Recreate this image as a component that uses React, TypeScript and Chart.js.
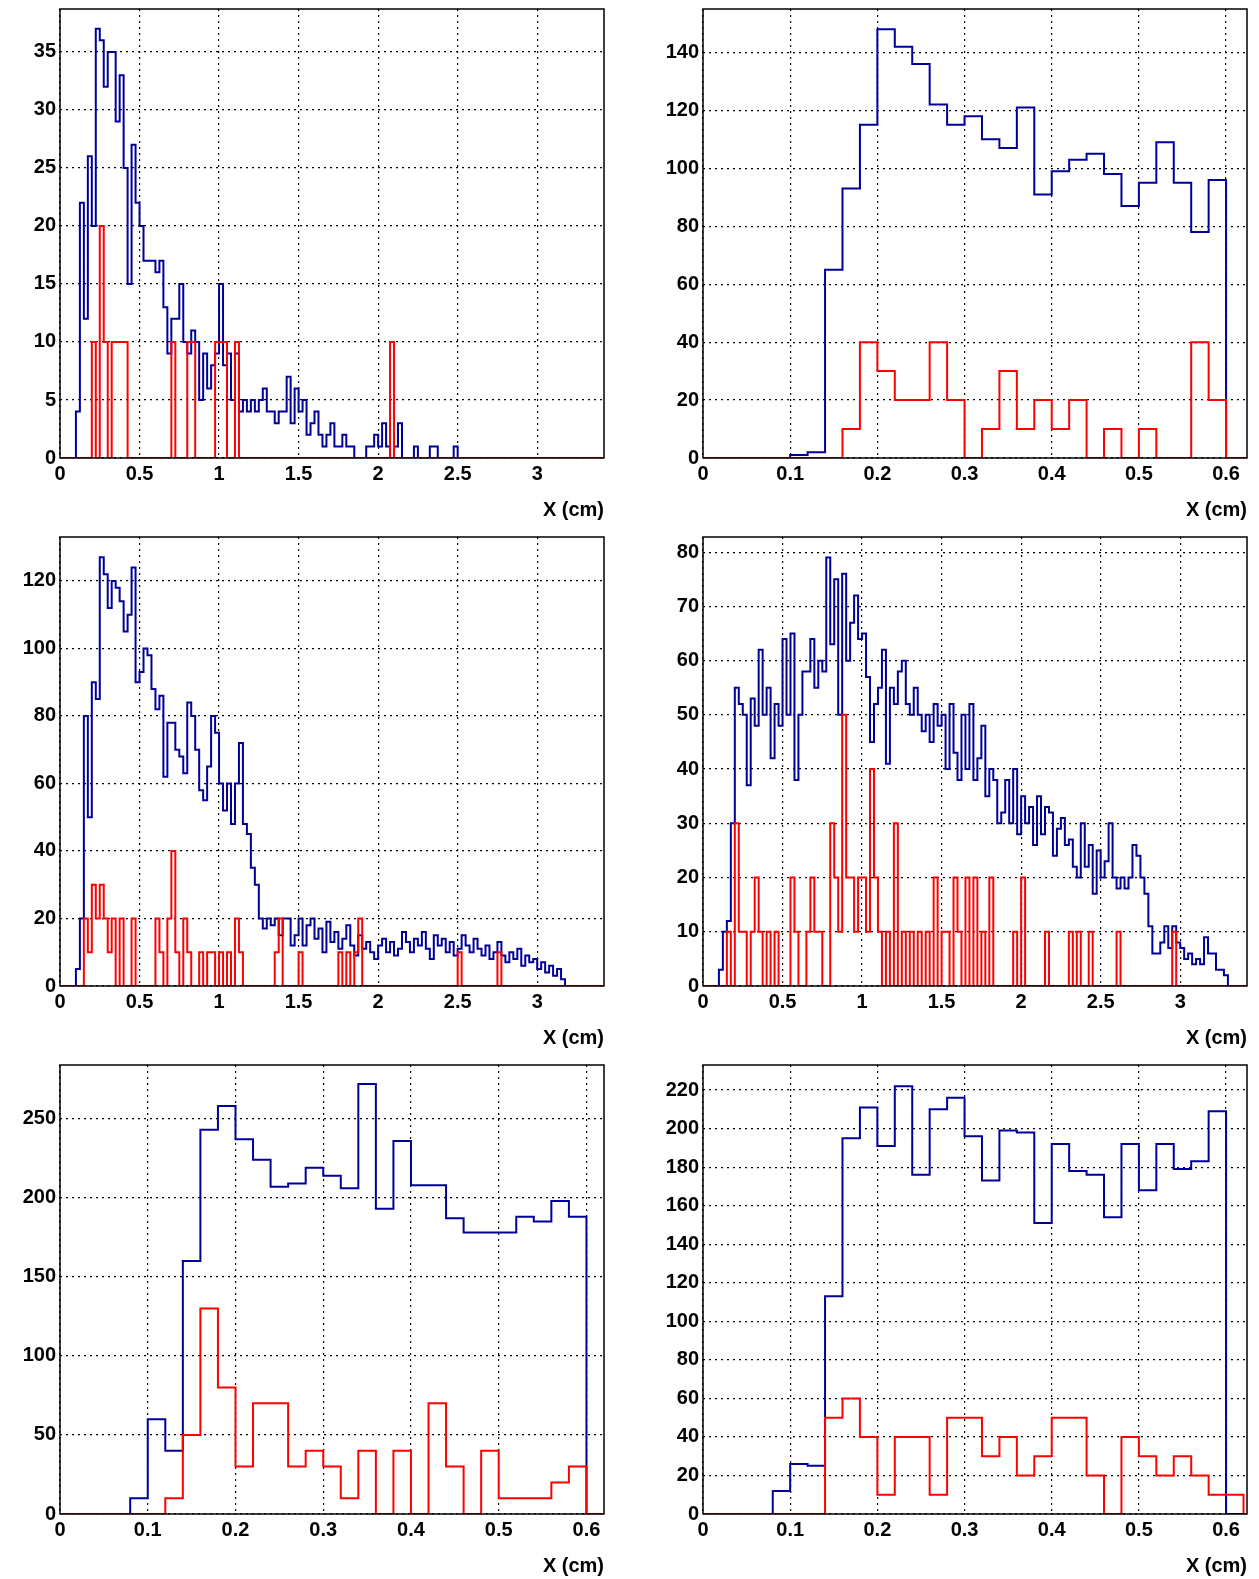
import React, { useEffect, useRef } from "react";
import { Chart, registerables } from "chart.js";
Chart.register(...registerables);

const W1 = 0.025;
const blue1Start = 0.1;
const blue1 = [4,22,12,26,20,37,36,32,35,35,29,33,25,15,27,22,20,17,17,17,16,17,13,9,12,12,15,10,9,11,10,5,9,6,8,9,15,8,9,5,9,4,5,4,5,4,5,6,4,4,3,4,4,7,3,6,4,5,2,3,4,2,1,2,3,1,1,2,1,1,0,0,0,1,1,2,1,3,1,0,1,3,0,0,0,1,0,0,0,1,1,0,0,0,0,1];
const red1 = [[0.2,10],[0.25,20],[0.275,10],[0.325,10],[0.35,10],[0.375,10],[0.4,10],[0.7,10],[0.8,10],[0.825,10],[0.975,10],[1.0,10],[1.025,10],[1.1,10],[2.075,10]];

const W2 = 0.02;
const blue2 = [0,0,0,0,0,1,2,65,93,115,148,142,136,122,115,118,110,107,121,91,99,103,105,98,87,95,109,95,78,96];
const red2 = [0,0,0,0,0,0,0,0,10,40,30,20,20,40,20,0,10,30,10,20,10,20,0,10,0,10,0,0,40,20];

const blue3Start = 0.1;
const blue3 = [5,20,80,50,90,85,127,122,112,120,118,114,105,110,124,90,93,100,98,88,82,86,62,78,78,70,68,63,84,80,70,58,55,65,80,75,60,52,60,48,60,72,48,45,35,30,20,17,20,18,20,15,20,20,12,
15,20,12,18,20,14,17,10,19,13,16,11,14,18,12,9,15,11,13,10,8,12,14,10,13,9,11,16,13,10,14,12,16,11,8,15,12,14,10,13,9,11,15,12,10,14,11,9,12,8,10,13,9,7,10,8,11,6,9,7,8,5,7,4,6,3,5,2];
const red3 = [[0.15,20],[0.175,10],[0.2,30],[0.225,20],[0.25,30],[0.275,20],[0.3,10],[0.325,20],[0.375,20],[0.45,20],[0.6,20],[0.625,10],[0.675,20],[0.7,40],[0.725,10],[0.775,20],[0.8,10],[0.875,10],[0.925,10],[0.95,10],[1.0,10],[1.05,10],[1.1,20],[1.125,10],[1.35,10],[1.375,20],[1.5,10],[1.75,10],[1.8,10],[1.85,10],[1.875,20],[2.5,10],[2.75,10]];

const blue4Start = 0.1;
const blue4 = [3,10,12,30,55,52,50,37,53,48,62,50,55,42,52,48,64,50,65,38,50,58,58,64,55,60,58,79,63,75,50,76,60,67,72,64,65,57,45,52,55,62,41,55,52,58,60,52,50,55,50,47,50,45,52,48,50,40,52,43,38,50,40,52,38,42,48,35,40,38,30,32,38,30,40,28,35,30,33,26,35,28,33,32,24,29,31,26,27,22,20,30,22,26,17,25,20,23,30,20,18,20,18,20,26,24,20,17,11,6,6,8,11,7,11,8,7,5,6,4,5,4,9,6,6,3,3,2];
const red4 = [[0.15,10],[0.2,30],[0.225,10],[0.25,10],[0.3,10],[0.325,20],[0.35,10],[0.4,10],[0.45,10],[0.55,20],[0.575,10],[0.65,10],[0.675,20],[0.7,10],[0.725,10],[0.8,30],[0.825,20],[0.85,10],[0.875,50],[0.9,20],[0.925,20],[0.95,10],[0.975,20],[1.0,20],[1.025,10],[1.05,40],[1.075,20],[1.1,10],[1.15,10],[1.2,30],[1.25,10],[1.3,10],[1.35,10],[1.4,10],[1.45,20],[1.5,10],[1.525,10],[1.575,20],[1.6,10],[1.65,20],[1.7,20],[1.75,10],[1.8,20],[1.95,10],[2.0,20],[2.15,10],[2.3,10],[2.35,10],[2.425,10],[2.6,10],[2.95,10]];

const blue5 = [0,0,0,0,10,60,40,160,243,258,237,224,207,209,219,214,206,272,193,236,208,208,187,178,178,178,188,185,198,188];
const red5 = [0,0,0,0,0,0,10,50,130,80,30,70,70,30,40,30,10,40,0,40,0,70,30,0,40,10,10,10,20,30];

const blue6 = [0,0,0,0,12,26,25,113,195,211,191,222,176,210,216,196,173,199,198,151,192,178,176,154,192,168,192,179,183,209];
const red6 = [0,0,0,0,0,0,0,50,60,40,10,40,40,10,50,50,30,40,20,30,50,50,20,0,40,30,20,30,20,10,10];

function hist(start: number, w: number, vals: number[], xEnd?: number) {
  const pts: { x: number; y: number }[] = [{ x: start, y: 0 }];
  vals.forEach((v, i) => {
    pts.push({ x: start + i * w, y: v });
    pts.push({ x: start + (i + 1) * w, y: v });
  });
  const end = start + vals.length * w;
  pts.push({ x: end, y: 0 });
  if (xEnd !== undefined && xEnd > end) pts.push({ x: xEnd, y: 0 });
  return pts;
}
function spikes(list: number[][], w: number, xmax: number) {
  const n = Math.round(xmax / w);
  const arr = new Array(n).fill(0);
  list.forEach(([x, v]) => { arr[Math.round(x / w)] = v; });
  return hist(0, w, arr, xmax);
}

const FONT = { family: "'Liberation Sans', Arial, sans-serif", size: 20, weight: "bold" as const };

type P = { blue: any[]; red: any[]; xmax: number; xstep: number; ymax: number; ystep: number; top: number; left: number; width: number };

const panels: P[] = [
  { blue: hist(blue1Start, W1, blue1, 3.42), red: spikes(red1, W1, 3.42), xmax: 3.42, xstep: 0.5, ymax: 38.7, ystep: 5, top: 0, left: 0, width: 625 },
  { blue: hist(0, W2, blue2, 0.624), red: hist(0, W2, red2, 0.624), xmax: 0.624, xstep: 0.1, ymax: 155, ystep: 20, top: 0, left: 643, width: 625 },
  { blue: hist(blue3Start, W1, blue3, 3.42), red: spikes(red3, W1, 3.42), xmax: 3.42, xstep: 0.5, ymax: 133, ystep: 20, top: 528, left: 0, width: 625 },
  { blue: hist(blue4Start, W1, blue4, 3.42), red: spikes(red4, W1, 3.42), xmax: 3.42, xstep: 0.5, ymax: 82.8, ystep: 10, top: 528, left: 643, width: 625 },
  { blue: hist(0, W2, blue5, 0.62), red: hist(0, W2, red5, 0.62), xmax: 0.62, xstep: 0.1, ymax: 284, ystep: 50, top: 1056, left: 0, width: 625 },
  { blue: hist(0, W2, blue6, 0.624), red: hist(0, W2, red6, 0.624), xmax: 0.624, xstep: 0.1, ymax: 233, ystep: 20, top: 1056, left: 643, width: 625 },
];

const frame = {
  id: "frame",
  afterDraw(c: any) {
    const { ctx, chartArea: a } = c;
    ctx.save();
    ctx.strokeStyle = "#000";
    ctx.lineWidth = 1.5;
    ctx.strokeRect(a.left, a.top, a.right - a.left, a.bottom - a.top);
    ctx.restore();
  },
};

function rebuild(step: number, max: number) {
  return (s: any) => {
    const t: any[] = [];
    for (let i = 0; i * step <= max + 1e-9; i++) t.push({ value: Math.round(i * step * 1000) / 1000 });
    s.ticks = t;
  };
}

function Panel({ p }: { p: P }) {
  const ref = useRef<HTMLCanvasElement>(null);
  useEffect(() => {
    const ch = new Chart(ref.current!, {
      type: "line",
      data: {
        datasets: [
          { data: p.red, borderColor: "#ff0000", borderWidth: 2, pointRadius: 0, fill: false, tension: 0 },
          { data: p.blue, borderColor: "#000099", borderWidth: 2, pointRadius: 0, fill: false, tension: 0 },
        ],
      },
      options: {
        animation: false,
        responsive: false,
        layout: { padding: { top: 0, right: 21, left: 0, bottom: 0 } },
        plugins: { legend: { display: false }, tooltip: { enabled: false } },
        scales: {
          x: {
            type: "linear", min: 0, max: p.xmax,
            ticks: { color: "#000", font: FONT, maxRotation: 0, padding: 4, autoSkip: false,
              callback: (v: any) => String(Math.round(Number(v) * 10) / 10) },
            afterBuildTicks: rebuild(p.xstep, p.xmax),
            afterFit: (s: any) => { s.height = 68; },
            grid: { color: "#000", lineWidth: 1.2, tickLength: 0 },
            border: { display: false, dash: [2, 4] } as any,
            title: { display: true, text: "X (cm)", align: "end", color: "#000", font: FONT, padding: { top: 1 } },
          },
          y: {
            type: "linear", min: 0, max: p.ymax,
            ticks: { color: "#000", font: FONT, padding: 4, autoSkip: false },
            afterBuildTicks: rebuild(p.ystep, p.ymax),
            afterFit: (s: any) => { s.width = 60; },
            grid: { color: "#000", lineWidth: 1.2, tickLength: 0 },
            border: { display: false, dash: [2, 4] } as any,
          },
        },
      },
      plugins: [frame],
    });
    return () => ch.destroy();
  }, []);
  return <canvas ref={ref} width={p.width} height={533} style={{ position: "absolute", top: p.top - 7, left: p.left, width: p.width, height: 533 }} />;
}

export default function App() {
  return (
    <div style={{ position: "absolute", top: 0, left: 0, width: 1259, height: 1579, background: "#fff", overflow: "hidden" }}>
      {panels.map((p, i) => <Panel key={i} p={p} />)}
    </div>
  );
}
